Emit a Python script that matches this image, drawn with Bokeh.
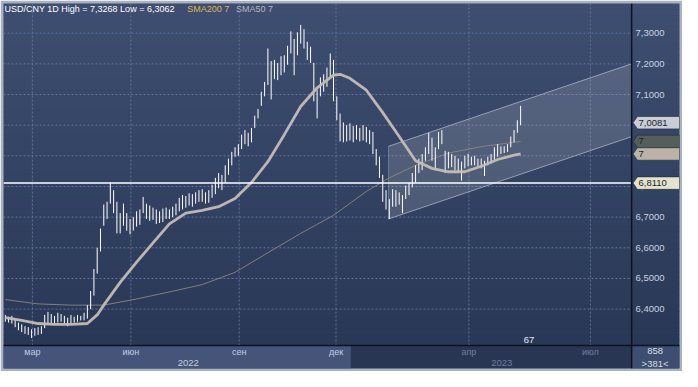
from bokeh.plotting import figure
from bokeh.models import Range1d
from bokeh.embed import file_html
from bokeh.resources import INLINE
from bokeh.core.properties import value

# ---------------- data ----------------
# one bar per two trading days (high / low)
high = [6.381, 6.375, 6.378, 6.366, 6.356, 6.350, 6.344, 6.341, 6.334, 6.338,
        6.341, 6.344, 6.381, 6.391, 6.384, 6.378, 6.388, 6.384, 6.378, 6.372,
        6.381, 6.375, 6.381, 6.378, 6.388, 6.413, 6.459, 6.531, 6.600, 6.663,
        6.741, 6.750, 6.813, 6.788, 6.750, 6.713, 6.744, 6.713, 6.694, 6.700,
        6.719, 6.725, 6.766, 6.744, 6.738, 6.731, 6.725, 6.719, 6.728, 6.731,
        6.725, 6.734, 6.744, 6.763, 6.772, 6.769, 6.778, 6.775, 6.781, 6.788,
        6.791, 6.781, 6.788, 6.806, 6.828, 6.844, 6.838, 6.869, 6.891, 6.913,
        6.928, 6.938, 6.969, 6.984, 6.975, 6.991, 7.031, 7.053, 7.109, 7.141,
        7.250, 7.209, 7.213, 7.203, 7.225, 7.228, 7.259, 7.306, 7.281, 7.303,
        7.327, 7.313, 7.272, 7.256, 7.203, 7.116, 7.156, 7.166, 7.188, 7.234,
        7.213, 7.094, 7.038, 7.009, 7.000, 7.006, 6.997, 7.000, 6.991, 7.000,
        6.994, 6.984, 6.978, 6.922, 6.897, 6.838, 6.788, 6.759, 6.791, 6.788,
        6.781, 6.772, 6.803, 6.813, 6.844, 6.869, 6.891, 6.906, 6.928, 6.975,
        6.959, 6.928, 6.978, 6.984, 6.916, 6.913, 6.906, 6.900, 6.891, 6.881,
        6.900, 6.906, 6.897, 6.900, 6.891, 6.891, 6.884, 6.897, 6.906, 6.928,
        6.938, 6.931, 6.931, 6.938, 6.963, 6.984, 7.016, 7.063]
low = [6.359, 6.356, 6.353, 6.341, 6.331, 6.325, 6.319, 6.316, 6.306, 6.313,
       6.316, 6.319, 6.338, 6.350, 6.353, 6.350, 6.356, 6.359, 6.353, 6.344,
       6.353, 6.356, 6.359, 6.363, 6.363, 6.369, 6.400, 6.444, 6.516, 6.588,
       6.672, 6.694, 6.744, 6.713, 6.647, 6.647, 6.672, 6.656, 6.644, 6.656,
       6.669, 6.675, 6.713, 6.694, 6.688, 6.691, 6.678, 6.681, 6.684, 6.694,
       6.694, 6.700, 6.706, 6.719, 6.725, 6.731, 6.738, 6.734, 6.744, 6.750,
       6.750, 6.744, 6.747, 6.763, 6.775, 6.794, 6.788, 6.813, 6.838, 6.869,
       6.897, 6.900, 6.922, 6.938, 6.931, 6.944, 6.991, 7.022, 7.063, 7.094,
       7.131, 7.084, 7.150, 7.147, 7.163, 7.172, 7.197, 7.234, 7.163, 7.228,
       7.266, 7.250, 7.213, 7.203, 7.078, 7.022, 7.094, 7.109, 7.125, 7.156,
       7.078, 7.016, 6.947, 6.944, 6.947, 6.950, 6.944, 6.953, 6.947, 6.950,
       6.944, 6.938, 6.906, 6.869, 6.828, 6.750, 6.725, 6.694, 6.734, 6.734,
       6.741, 6.713, 6.759, 6.772, 6.797, 6.813, 6.844, 6.853, 6.884, 6.906,
       6.884, 6.853, 6.922, 6.938, 6.844, 6.859, 6.863, 6.853, 6.844, 6.819,
       6.859, 6.866, 6.869, 6.869, 6.866, 6.859, 6.834, 6.869, 6.875, 6.888,
       6.897, 6.906, 6.909, 6.913, 6.928, 6.944, 6.975, 7.000]

sma50_idx = [0, 5, 10, 15, 20, 25, 28, 30, 35, 40, 45, 50, 55, 60, 65, 70, 75, 80,
             85, 90, 95, 100, 102, 105, 110, 115, 120, 125, 130, 135, 140, 145,
             150, 155, 157]
sma50 = [6.372, 6.363, 6.353, 6.350, 6.350, 6.353, 6.381, 6.413, 6.487, 6.553,
         6.616, 6.678, 6.713, 6.722, 6.734, 6.761, 6.813, 6.881, 6.969, 7.061,
         7.122, 7.163, 7.166, 7.153, 7.114, 7.041, 6.963, 6.884, 6.859, 6.848,
         6.848, 6.866, 6.888, 6.902, 6.906]

sma200_idx = [0, 10, 20, 30, 40, 50, 60, 70, 80, 90, 100, 110, 117, 125, 135, 145, 157]
sma200 = [6.431, 6.417, 6.413, 6.413, 6.433, 6.456, 6.480, 6.520, 6.584, 6.647,
          6.706, 6.784, 6.828, 6.869, 6.909, 6.930, 6.947]

price_ticks = [6.4, 6.5, 6.6, 6.7, 6.8, 6.9, 7.0, 7.1, 7.2, 7.3]
month_ticks = [17, 77, 143, 202, 283, 357]          # trading-day index
month_labels = ["мар", "июн", "сен", "дек", "апр", "июл"]
year_pos = [112, 303]
year_labels = ["2022", "2023"]
year_split = 211
last_price = 7.0081
level = 6.8110
sma200_last = 6.947
sma50_last = 6.906
channel_x = [234, 382.1]
channel_upper = [6.931, 7.200]
channel_lower = [6.694, 6.9625]
title_text = "USD/CNY 1D High = 7,3268 Low = 6,3062"

# ---------------- figure ----------------
X0, X1 = (3 - 4) / 1.68, (695 - 4) / 1.68
Y0, Y1 = 7.40625 - 384 / 320, 7.40625 - 3 / 320
p = figure(width=682, height=371, output_backend="svg", toolbar_location=None,
           x_range=Range1d(X0, X1), y_range=Range1d(Y0, Y1),
           x_axis_location=None, y_axis_location=None,
           min_border=3, border_fill_color="#a9b2c0",
           background_fill_color="#33425f", outline_line_color=None)
p.grid.visible = False
p.extra_x_ranges = {"px": Range1d(3, 695)}
p.extra_y_ranges = {"px": Range1d(384, 3)}
PX = dict(x_range_name="px", y_range_name="px")
FONT = value("Liberation Sans")

# background gradient (plot + price panel)
top_c = (0x3e, 0x4e, 0x70)
bot_c = (0x29, 0x38, 0x56)
n = 60
tops, bots, cols = [], [], []
for k in range(n):
    t = k / (n - 1)
    c = tuple(int(round(top_c[j] + (bot_c[j] - top_c[j]) * t)) for j in range(3))
    tops.append(3 + (360 - 3) * k / n)
    bots.append(3 + (360 - 3) * (k + 1) / n + 0.6)
    cols.append("#%02x%02x%02x" % c)
p.quad(left=3, right=695, top=tops, bottom=bots, fill_color=cols, line_color=None, **PX)

# grid
p.segment(x0=3, x1=646, y0=price_ticks, y1=price_ticks, line_color="#62739a",
          line_dash="2 2", line_width=1, x_range_name="px")
p.segment(x0=month_ticks, x1=month_ticks, y0=3, y1=360, line_color="#62739a",
          line_dash="2 2", line_width=1, y_range_name="px")

# channel
p.patch(x=[channel_x[0], channel_x[1], channel_x[1], channel_x[0]],
        y=[channel_upper[0], channel_upper[1], channel_lower[1], channel_lower[0]],
        fill_color="white", fill_alpha=0.14, line_color=None)
p.line(x=channel_x, y=channel_upper, line_color="#b8c0d0", line_alpha=0.7, line_width=1)
p.line(x=channel_x, y=channel_lower, line_color="#b8c0d0", line_alpha=0.7, line_width=1)
p.line(x=[channel_x[0], channel_x[0]], y=[channel_upper[0], channel_lower[0]],
       line_color="#b8c0d0", line_alpha=0.35, line_width=1)

# SMA200
p.line(x=[2 * i + 0.5 for i in sma200_idx], y=sma200, line_color="#8f8c80",
       line_alpha=0.85, line_width=1)

# bars
bx = [2 * i + 0.5 for i in range(len(high))]
p.segment(x0=bx, x1=bx, y0=low, y1=high, line_color="white", line_width=1.0)

# SMA50
p.line(x=[2 * i + 0.5 for i in sma50_idx], y=sma50, line_color="#c4bdb6",
       line_width=2.8, line_alpha=0.95)

# level line
p.segment(x0=3, x1=646, y0=level, y1=level, line_color="white", line_width=1.5,
          x_range_name="px")

# price axis labels
p.text(x=[650] * len(price_ticks), y=price_ticks,
       text=[("%.4f" % v).replace(".", ",") for v in price_ticks],
       text_color="#c9d2e2", text_font=FONT, text_font_size="9.5px",
       text_baseline="middle", text_align="left", x_range_name="px")

# price tags
h = 6.5 / 320
tags = [(last_price, "#c9cdd6", ("%.4f" % last_price).replace(".", ",")),
        (sma200_last, "#535f58", "7"),
        (sma50_last, "#bdb2a7", "7"),
        (level, "#e4e4cc", ("%.4f" % level).replace(".", ","))]
for v, col, lab in tags:
    p.patch(x=[647.5, 652, 695, 695, 652], y=[v, v + h, v + h, v - h, v - h],
            fill_color=col, line_color="#20283a", line_width=0.6, x_range_name="px")
    p.text(x=[653], y=[v], text=[lab], text_color="#1b1f28", text_font=FONT,
           text_font_size="9.5px", text_baseline="middle", text_align="left",
           x_range_name="px")

# bottom strip
p.quad(left=3, right=695, top=360, bottom=384, fill_color="#283654", line_color=None, **PX)
p.quad(left=X0, right=year_split, top=360, bottom=384, fill_color="#45557a",
       line_color=None, y_range_name="px")
p.quad(left=646, right=695, top=360, bottom=384, fill_color="#3e4e70", line_color=None, **PX)
p.segment(x0=3, x1=695, y0=360, y1=360, line_color="#0c1220", line_width=1.5, **PX)
p.segment(x0=646, x1=646, y0=3, y1=384, line_color="#0c1220", line_width=1.5, **PX)

mcol = ["#c3cde0" if t < year_split else "#6f7f9f" for t in month_ticks]
p.text(x=month_ticks, y=[367] * len(month_ticks), text=month_labels, text_color=mcol,
       text_font=FONT, text_font_size="9px", text_baseline="middle", text_align="center",
       y_range_name="px")
ycol = ["#c3cde0" if t < year_split else "#6f7f9f" for t in year_pos]
p.text(x=year_pos, y=[378] * len(year_pos), text=year_labels, text_color=ycol,
       text_font=FONT, text_font_size="9.5px", text_baseline="middle", text_align="center",
       y_range_name="px")
p.text(x=[670, 670], y=[366, 379], text=["858", ">381<"], text_color="#d4dbe8",
       text_font=FONT, text_font_size="9.5px", text_baseline="middle", text_align="center", **PX)
p.text(x=[541], y=[354], text=["67"], text_color="#e8ecf4", text_font=FONT,
       text_font_size="9.5px", text_baseline="middle", text_align="center", **PX)

# title / legend
p.text(x=[4], y=[9], text=[title_text], text_color="white", text_font=FONT,
       text_font_size="9px", text_baseline="middle", text_align="left", **PX)
p.text(x=[191], y=[9], text=["SMA200 7"], text_color="#d8b84e", text_font=FONT,
       text_font_size="9px", text_baseline="middle", text_align="left", **PX)
p.text(x=[241], y=[9], text=["SMA50 7"], text_color="#b4b8c0", text_font=FONT,
       text_font_size="9px", text_baseline="middle", text_align="left", **PX)

open("out.html", "w").write(file_html(p, INLINE))
